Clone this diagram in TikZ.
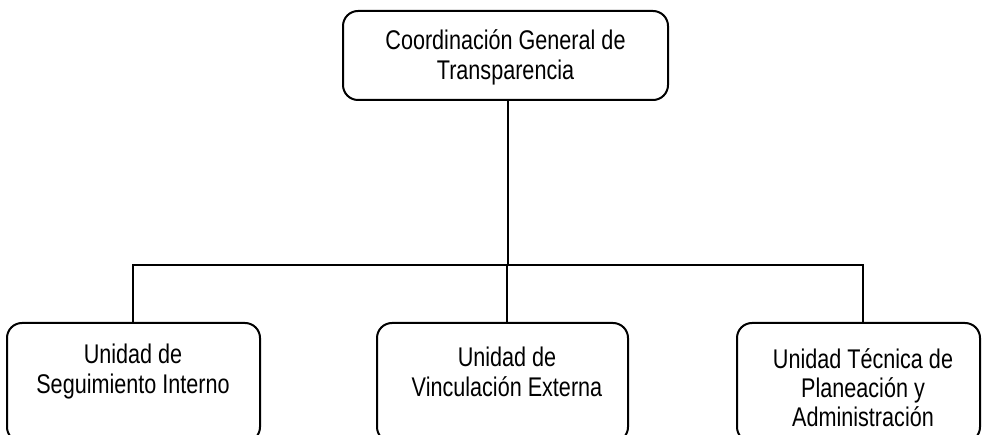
\documentclass[tikz,border=0pt]{standalone}
\usepackage{fontspec}
\setmainfont{Liberation Sans}[FakeStretch=0.8]
\begin{document}
\begin{tikzpicture}[x=1pt,y=-1pt,
  orgbox/.style={draw, line width=2pt, rounded corners=15pt, inner sep=0pt},
  lbl/.style={align=center, inner sep=0pt, font=\fontsize{27}{29}\selectfont},
  wire/.style={line width=2pt}]
\useasboundingbox (0,0) rectangle (982,435);
\clip (0,0) rectangle (982,435);
% boxes
\node[orgbox, minimum width=325pt, minimum height=89pt] (top) at (505.5,55.5) {};
\node[orgbox, minimum width=253pt, minimum height=119pt] (leftbox) at (133.5,382.5) {};
\node[orgbox, minimum width=251pt, minimum height=119pt] (midbox) at (502.5,382.5) {};
\node[orgbox, minimum width=243pt, minimum height=119pt] (rightbox) at (858.5,382.5) {};
% texts
\node[lbl, font=\fontsize{27}{30}\selectfont] (toptext) at (505.5,57) {Coordinación General de\\Transparencia};
\node[lbl, font=\fontsize{27}{30}\selectfont] (lefttext) at (133,372) {Unidad de\\Seguimiento Interno};
\node[lbl, font=\fontsize{27}{30}\selectfont] (midtext) at (507,372) {Unidad de\\Vinculación Externa};
\node[lbl] (righttext) at (863,388) {Unidad Técnica de\\Planeación y\\Administración};
% connectors
\coordinate (bus) at (508,265);
\draw[wire] (top.south -| bus) -- (bus);
\draw[wire] (lefttext |- leftbox.north) |- (bus) -| (righttext |- rightbox.north);
\draw[wire] (midtext |- bus) -- (midtext |- midbox.north);
\end{tikzpicture}
\end{document}
